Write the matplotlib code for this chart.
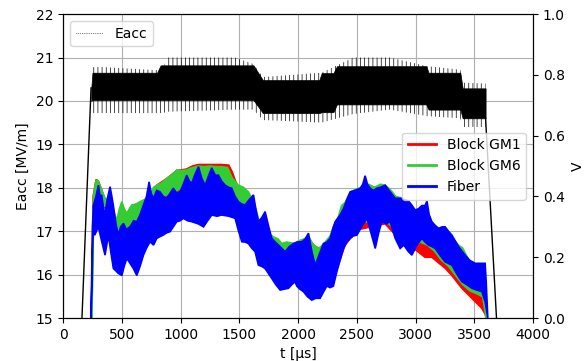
import numpy as np
import matplotlib
matplotlib.use('Agg')
import matplotlib.pyplot as plt
from matplotlib.lines import Line2D

plt.rcParams['hatch.linewidth'] = 0.5

# --- Eacc (left axis, MV/m): dense core band and sparse outlier band ---
eacc_t = [240, 250, 800, 830, 1620, 1700, 2180, 2200, 2300, 2330, 3090, 3110, 3380, 3400, 3595]
eacc_hi = [20.3, 20.65, 20.65, 20.82, 20.82, 20.48, 20.48, 20.64, 20.64, 20.8, 20.8, 20.65, 20.65, 20.29, 20.29]
eacc_lo = [20.0, 20.02, 20.02, 20.02, 20.02, 19.72, 19.72, 19.74, 19.74, 19.92, 19.92, 19.8, 19.8, 19.6, 19.6]

eacc_out_t = [245, 340, 850, 880, 1460, 1620, 1700, 2200, 2470, 2780, 3100, 3380, 3400, 3595]
eacc_out_hi = [20.78, 20.78, 20.7, 21.0, 21.0, 20.85, 20.55, 20.65, 21.0, 21.0, 20.8, 20.72, 20.42, 20.4]
eacc_out_lo = [19.72, 19.72, 19.72, 19.75, 19.8, 19.8, 19.56, 19.5, 19.7, 19.8, 19.65, 19.6, 19.4, 19.4]

ramp_up_t, ramp_up_v = [120, 238], [12.2, 20.3]
ramp_dn_t, ramp_dn_v = [3595, 3720], [19.6, 13.4]

# --- right axis (V): upper / lower edges of each noisy trace ---
blue_hi = [(238, 0.0), (250, 0.30), (258, 0.37), (280, 0.40), (301, 0.437), (315, 0.40), (328, 0.405),
           (345, 0.36), (357, 0.339), (375, 0.39), (400, 0.432), (415, 0.40), (428, 0.37), (450, 0.31),
           (470, 0.273), (490, 0.30), (514, 0.311), (540, 0.29), (570, 0.30), (600, 0.32), (627, 0.317),
           (655, 0.34), (684, 0.372), (710, 0.40), (732, 0.448), (750, 0.41), (769, 0.394), (797, 0.42),
           (825, 0.415), (853, 0.40), (882, 0.394), (910, 0.41), (938, 0.427), (967, 0.41), (995, 0.415),
           (1023, 0.44), (1052, 0.47), (1075, 0.45), (1095, 0.444), (1120, 0.47), (1152, 0.498),
           (1180, 0.46), (1209, 0.437), (1240, 0.47), (1265, 0.494), (1295, 0.47), (1322, 0.47),
           (1350, 0.45), (1379, 0.437), (1410, 0.43), (1435, 0.427), (1464, 0.40), (1492, 0.383),
           (1521, 0.375), (1549, 0.372), (1585, 0.39), (1620, 0.405), (1640, 0.36), (1662, 0.317),
           (1690, 0.33), (1719, 0.35), (1750, 0.30), (1776, 0.262), (1805, 0.25), (1833, 0.24),
           (1860, 0.23), (1889, 0.218), (1925, 0.235), (1960, 0.245), (1990, 0.25), (2031, 0.251),
           (2060, 0.26), (2088, 0.279), (2116, 0.22), (2145, 0.174), (2180, 0.21), (2216, 0.245),
           (2244, 0.25), (2272, 0.262), (2300, 0.30), (2315, 0.317), (2357, 0.339), (2386, 0.36),
           (2415, 0.39), (2443, 0.415), (2485, 0.42), (2528, 0.427), (2550, 0.44), (2570, 0.468),
           (2590, 0.44), (2613, 0.427), (2640, 0.42), (2670, 0.427), (2700, 0.43), (2741, 0.437),
           (2783, 0.415), (2826, 0.394), (2868, 0.394), (2900, 0.39), (2940, 0.385), (2970, 0.37),
           (2996, 0.355), (3025, 0.36), (3053, 0.37), (3080, 0.37), (3096, 0.385), (3115, 0.34),
           (3138, 0.317), (3165, 0.305), (3195, 0.295), (3225, 0.30), (3251, 0.30), (3280, 0.285),
           (3308, 0.273), (3335, 0.255), (3365, 0.235), (3395, 0.22), (3421, 0.207), (3460, 0.19),
           (3506, 0.18), (3550, 0.18), (3591, 0.18), (3600, 0.12), (3614, 0.0)]
blue_lo = [(238, 0.0), (255, 0.28), (270, 0.273), (300, 0.30), (330, 0.25), (357, 0.207), (386, 0.273),
           (405, 0.22), (428, 0.163), (450, 0.155), (470, 0.147), (500, 0.14), (520, 0.17), (542, 0.196),
           (570, 0.18), (598, 0.163), (627, 0.14), (655, 0.17), (684, 0.207), (710, 0.23), (740, 0.251),
           (770, 0.24), (797, 0.262), (825, 0.268), (853, 0.273), (880, 0.28), (910, 0.284), (938, 0.30),
           (967, 0.317), (995, 0.32), (1023, 0.328), (1060, 0.32), (1095, 0.317), (1150, 0.31),
           (1195, 0.30), (1230, 0.32), (1265, 0.339), (1310, 0.335), (1350, 0.339), (1410, 0.335),
           (1464, 0.328), (1490, 0.29), (1521, 0.251), (1549, 0.25), (1577, 0.245), (1605, 0.23),
           (1634, 0.218), (1662, 0.174), (1690, 0.17), (1719, 0.163), (1750, 0.145), (1776, 0.13),
           (1810, 0.11), (1847, 0.092), (1880, 0.095), (1918, 0.098), (1946, 0.11), (1974, 0.119),
           (1989, 0.105), (2015, 0.095), (2045, 0.087), (2080, 0.07), (2116, 0.059), (2150, 0.065),
           (2187, 0.065), (2215, 0.085), (2244, 0.105), (2272, 0.10), (2300, 0.105), (2329, 0.152),
           (2357, 0.19), (2386, 0.229), (2415, 0.25), (2443, 0.262), (2470, 0.27), (2500, 0.273),
           (2540, 0.30), (2585, 0.328), (2620, 0.28), (2656, 0.229), (2685, 0.28), (2712, 0.317),
           (2750, 0.31), (2783, 0.317), (2826, 0.262), (2868, 0.229), (2900, 0.24), (2935, 0.22),
           (2968, 0.207), (3010, 0.24), (3053, 0.262), (3080, 0.25), (3110, 0.24), (3138, 0.235),
           (3166, 0.229), (3210, 0.205), (3251, 0.185), (3308, 0.174), (3350, 0.145), (3393, 0.12),
           (3435, 0.11), (3478, 0.098), (3520, 0.092), (3563, 0.087), (3591, 0.054), (3614, 0.0)]

green_hi = [(245, 0.0), (258, 0.40), (281, 0.454), (300, 0.45), (330, 0.42), (357, 0.394), (400, 0.383),
            (430, 0.35), (457, 0.322), (480, 0.36), (500, 0.383), (520, 0.36), (542, 0.344), (565, 0.36),
            (585, 0.372), (620, 0.375), (655, 0.383), (700, 0.39), (740, 0.405), (770, 0.43), (797, 0.437),
            (840, 0.445), (882, 0.459), (920, 0.47), (967, 0.487), (1000, 0.485), (1050, 0.487),
            (1100, 0.495), (1150, 0.50), (1200, 0.498), (1250, 0.50), (1300, 0.498), (1350, 0.498),
            (1400, 0.495), (1440, 0.46), (1464, 0.45), (1490, 0.437), (1535, 0.43), (1577, 0.415),
            (1620, 0.383), (1662, 0.328), (1719, 0.284), (1760, 0.275), (1790, 0.267), (1830, 0.26),
            (1861, 0.245), (1900, 0.25), (1974, 0.245), (2010, 0.255), (2050, 0.26), (2088, 0.27),
            (2130, 0.24), (2180, 0.23), (2230, 0.25), (2272, 0.27), (2300, 0.30), (2340, 0.33),
            (2370, 0.37), (2400, 0.38), (2443, 0.415), (2500, 0.425), (2550, 0.43), (2600, 0.44),
            (2650, 0.43), (2700, 0.44), (2741, 0.437), (2790, 0.42), (2830, 0.40), (2880, 0.395),
            (2940, 0.38), (2996, 0.35), (3053, 0.36), (3100, 0.33), (3150, 0.31), (3200, 0.29),
            (3251, 0.29), (3308, 0.265), (3365, 0.24), (3400, 0.23), (3440, 0.20), (3480, 0.17),
            (3530, 0.16), (3578, 0.13), (3595, 0.08), (3605, 0.0)]
green_lo = [(245, 0.0), (262, 0.38), (300, 0.38), (330, 0.37), (370, 0.366), (400, 0.34), (428, 0.30),
            (470, 0.284), (500, 0.29), (542, 0.30), (585, 0.31), (627, 0.322), (680, 0.335), (740, 0.35),
            (780, 0.37), (825, 0.394), (880, 0.405), (938, 0.415), (1000, 0.425), (1050, 0.43),
            (1100, 0.43), (1160, 0.435), (1209, 0.437), (1260, 0.435), (1320, 0.43), (1379, 0.43),
            (1430, 0.41), (1490, 0.372), (1550, 0.34), (1606, 0.317), (1660, 0.28), (1719, 0.24),
            (1780, 0.215), (1833, 0.196), (1890, 0.185), (1946, 0.174), (2000, 0.15), (2050, 0.12),
            (2100, 0.10), (2150, 0.095), (2200, 0.10), (2250, 0.12), (2300, 0.14), (2350, 0.20),
            (2400, 0.25), (2450, 0.28), (2500, 0.30), (2560, 0.32), (2620, 0.31), (2680, 0.315),
            (2740, 0.32), (2800, 0.30), (2860, 0.27), (2920, 0.25), (2980, 0.235), (3040, 0.25),
            (3100, 0.24), (3160, 0.22), (3220, 0.19), (3280, 0.17), (3340, 0.14), (3400, 0.11),
            (3460, 0.09), (3520, 0.08), (3570, 0.07), (3600, 0.0)]

red_hi = [(242, 0.0), (256, 0.40), (281, 0.456), (300, 0.45), (330, 0.42), (357, 0.39), (400, 0.38),
          (457, 0.32), (500, 0.37), (542, 0.34), (585, 0.36), (655, 0.38), (740, 0.40), (797, 0.437),
          (882, 0.459), (967, 0.485), (1050, 0.49), (1100, 0.50), (1150, 0.505), (1250, 0.505),
          (1350, 0.505), (1410, 0.503), (1440, 0.48), (1464, 0.454), (1490, 0.43), (1535, 0.42),
          (1577, 0.40), (1620, 0.37), (1662, 0.32), (1719, 0.28), (1790, 0.26), (1861, 0.24),
          (1974, 0.24), (2088, 0.26), (2180, 0.22), (2272, 0.26), (2340, 0.32), (2400, 0.37),
          (2443, 0.40), (2550, 0.42), (2600, 0.43), (2741, 0.43), (2830, 0.39), (2940, 0.37),
          (2996, 0.34), (3100, 0.30), (3200, 0.27), (3308, 0.24), (3400, 0.20), (3480, 0.16),
          (3560, 0.13), (3590, 0.08), (3600, 0.0)]
red_lo = [(242, 0.0), (260, 0.37), (300, 0.37), (370, 0.36), (428, 0.29), (470, 0.275), (500, 0.28),
          (542, 0.295), (585, 0.305), (627, 0.315), (740, 0.345), (825, 0.39), (938, 0.41), (1050, 0.425),
          (1209, 0.43), (1379, 0.425), (1430, 0.40), (1490, 0.36), (1550, 0.33), (1606, 0.31),
          (1660, 0.27), (1719, 0.235), (1833, 0.19), (1946, 0.17), (2000, 0.14), (2100, 0.095),
          (2200, 0.095), (2300, 0.13), (2400, 0.24), (2500, 0.29), (2620, 0.30), (2740, 0.31),
          (2860, 0.26), (2980, 0.23), (3080, 0.20), (3138, 0.20), (3200, 0.18), (3251, 0.164),
          (3308, 0.14), (3393, 0.098), (3478, 0.065), (3530, 0.045), (3563, 0.032), (3591, 0.013),
          (3600, 0.0)]

COLORS = {'Block GM1': '#ff0000', 'Block GM6': '#33cc33', 'Fiber': '#0000ff'}


def band(ax, hi, lo, color):
    hi = np.array(hi)
    lo = np.array(lo)[::-1]
    xs = np.r_[hi[:, 0], lo[:, 0]]
    ys = np.r_[hi[:, 1], lo[:, 1]]
    ax.fill(xs, ys, facecolor=color, edgecolor=color, linewidth=1.2)


fig = plt.figure(figsize=(5.84, 3.61), dpi=100)
ax1 = fig.add_axes([0.108, 0.119, 0.805, 0.842])
ax2 = ax1.twinx()

# Eacc
ax1.fill_between(eacc_out_t, eacc_out_lo, eacc_out_hi, facecolor='none',
                 edgecolor='black', hatch='||||', linewidth=0)
ax1.fill_between(eacc_t, eacc_lo, eacc_hi, color='black', linewidth=0.5)
ax1.plot(ramp_up_t, ramp_up_v, color='black', linewidth=1)
ax1.plot(ramp_dn_t, ramp_dn_v, color='black', linewidth=1)

ax1.set_xlim(0, 4000)
ax1.set_ylim(15, 22)
ax1.set_xticks(np.arange(0, 4001, 500))
ax1.set_yticks(np.arange(15, 23, 1))
ax1.set_xlabel('t [µs]')
ax1.set_ylabel('Eacc [MV/m]')
ax1.grid(True)
ax1.set_axisbelow(True)
ax1.legend([Line2D([], [], color='black', linestyle=':', linewidth=0.5)], ['Eacc'],
           loc='upper left')

# V traces
band(ax2, red_hi, red_lo, COLORS['Block GM1'])
band(ax2, green_hi, green_lo, COLORS['Block GM6'])
band(ax2, blue_hi, blue_lo, COLORS['Fiber'])
ax2.set_ylim(0, 1.0)
ax2.set_yticks(np.arange(0, 1.01, 0.2))
ax2.set_ylabel('V')
handles = [Line2D([], [], color=c, linewidth=2) for c in COLORS.values()]
ax2.legend(handles, list(COLORS.keys()), loc='center right')

plt.savefig('out.png', dpi=100)
